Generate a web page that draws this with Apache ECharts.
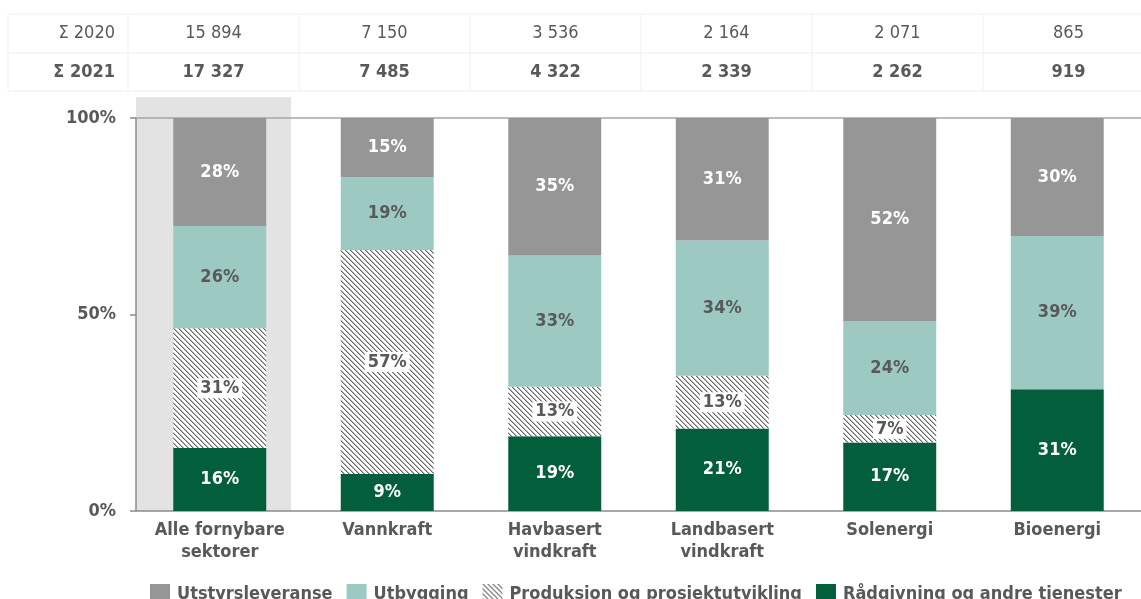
<!DOCTYPE html>
<html>
<head>
<meta charset="utf-8">
<script src="https://cdn.jsdelivr.net/npm/echarts@6/dist/echarts.min.js"></script>
<style>
html,body{margin:0;padding:0;background:#fff;}
#c{width:1141px;height:599px;}
</style>
</head>
<body>
<div id="c"></div>
<script>
// ---- data ----
const categories = ['Alle fornybare\nsektorer', 'Vannkraft', 'Havbasert\nvindkraft', 'Landbasert\nvindkraft', 'Solenergi', 'Bioenergi'];
const sum2020 = [15894, 7150, 3536, 2164, 2071, 865];
const sum2021 = [17327, 7485, 4322, 2339, 2262, 919];
const radgivning = [16, 9.4, 19, 21, 17.4, 31];
const produksjon = [30.5, 57, 12.6, 13.4, 7, 0];
const utbygging = [26, 18.6, 33.4, 34.4, 23.8, 39];
const utstyr = [27.5, 15, 35, 31.2, 51.8, 30];
const yTicks = [0, 50, 100];
const seriesNames = ['Utstyrsleveranse', 'Utbygging', 'Produksjon og prosjektutvikling', 'Rådgivning og andre tjenester'];

// ---- style ----
const FONT = "'Liberation Sans Narrow', 'DejaVu Sans Condensed', 'Noto Sans', sans-serif";
const TXT = '#595959';
const C_GRAY = '#969696', C_TEAL = '#9ccac2', C_GREEN = '#035e3c';

function hatch() {
  const s = 5;
  const cv = document.createElement('canvas');
  cv.width = s; cv.height = s;
  const ctx = cv.getContext('2d');
  ctx.fillStyle = '#ffffff';
  ctx.fillRect(0, 0, s, s);
  for (let i = 0; i < s; i++) {
    ctx.fillStyle = '#666666';
    ctx.fillRect(i, i, 1, 1);
    ctx.fillStyle = '#b4b4b4';
    ctx.fillRect((i + 1) % s, i, 1, 1);
  }
  return { image: cv, repeat: 'repeat' };
}
const C_HATCH = hatch();

const fmt = v => String(v).replace(/\B(?=(\d{3})+(?!\d))/g, ' ');
const pct = p => Math.round(p.value) + '%';

function mk(name, arr, color, labelColor, labelBg) {
  return {
    name: name, type: 'bar', stack: 'a', barWidth: '55.5%',
    itemStyle: { color: color },
    label: {
      show: true, position: 'inside', formatter: pct,
      color: labelColor, fontFamily: FONT, fontWeight: 'bold', fontSize: 18,
      backgroundColor: labelBg || 'transparent', padding: labelBg ? [1, 3] : 0
    },
    data: arr.map(v => v === 0 ? { value: v, label: { show: false } } : v),
    emphasis: { disabled: true }
  };
}

const chart = echarts.init(document.getElementById('c'));

// table graphics
const tbl = [];
const lineCol = '#efefef';
const colLeft0 = 8, colSplit = 128, colW = 171, rowY = [14, 53, 91];
rowY.forEach(y => tbl.push({ type: 'line', z: 1, shape: { x1: colLeft0, y1: y, x2: 1141, y2: y }, style: { stroke: lineCol, lineWidth: 1 } }));
for (let i = 0; i <= 6; i++) {
  const x = i === 0 ? colLeft0 : colSplit + (i - 1) * colW;
  tbl.push({ type: 'line', z: 1, shape: { x1: x, y1: rowY[0], x2: x, y2: rowY[2] }, style: { stroke: lineCol, lineWidth: 1 } });
}
[['Σ 2020', sum2020, 'normal'], ['Σ 2021', sum2021, 'bold']].forEach((r, ri) => {
  const cy = (rowY[ri] + rowY[ri + 1]) / 2;
  tbl.push({ type: 'text', z: 2, x: 115, y: cy, style: { text: r[0], fill: TXT, font: r[2] + ' 18px ' + FONT, textAlign: 'right', textVerticalAlign: 'middle' } });
  r[1].forEach((v, i) => {
    tbl.push({ type: 'text', z: 2, x: colSplit + i * colW + colW / 2, y: cy, style: { text: fmt(v), fill: TXT, font: r[2] + ' 18px ' + FONT, textAlign: 'center', textVerticalAlign: 'middle' } });
  });
});

chart.setOption({
  animation: false,
  backgroundColor: '#ffffff',
  grid: { left: 136, right: 0, top: 118, bottom: 88, containLabel: false },
  legend: {
    data: seriesNames, left: 145, top: 579, itemWidth: 20, itemHeight: 20, itemGap: 14,
    icon: 'rect',
    textStyle: { color: TXT, fontFamily: FONT, fontWeight: 'bold', fontSize: 18, padding: [0, 0, 0, 2] },
    selectedMode: false
  },
  xAxis: [{
    type: 'category', data: categories,
    axisLine: { lineStyle: { color: '#8c8c8c', width: 1.5 } },
    axisTick: { show: false },
    axisLabel: { color: TXT, fontFamily: FONT, fontWeight: 'bold', fontSize: 18, lineHeight: 22, margin: 8, interval: 0 }
  }, {
    type: 'category', data: categories, position: 'top',
    axisLine: { show: true, lineStyle: { color: '#a6a6a6', width: 1.5 } },
    axisTick: { show: false }, axisLabel: { show: false }
  }],
  yAxis: {
    type: 'value', min: yTicks[0], max: yTicks[yTicks.length - 1], interval: yTicks[1] - yTicks[0],
    axisLine: { show: true, lineStyle: { color: '#8c8c8c', width: 1.5 } },
    axisTick: { show: true, length: 6, lineStyle: { color: '#8c8c8c', width: 1.5 } },
    splitLine: { show: false },
    axisLabel: { formatter: '{value}%', color: TXT, fontFamily: FONT, fontWeight: 'bold', fontSize: 18, margin: 20 }
  },
  series: [
    mk(seriesNames[3], radgivning, C_GREEN, '#ffffff'),
    mk(seriesNames[2], produksjon, C_HATCH, TXT, '#ffffff'),
    mk(seriesNames[1], utbygging, C_TEAL, TXT),
    mk(seriesNames[0], utstyr, C_GRAY, '#ffffff')
  ],
  graphic: tbl
});

// highlight band behind first category
const p0 = chart.convertToPixel({ xAxisIndex: 0, yAxisIndex: 0 }, [0, 0]);
const pTop = chart.convertToPixel({ xAxisIndex: 0, yAxisIndex: 0 }, [0, 105.3]);
const catW = chart.convertToPixel({ xAxisIndex: 0 }, 1) - chart.convertToPixel({ xAxisIndex: 0 }, 0);
const left = p0[0] - catW / 2;
const right = p0[0] + catW * 0.425;
tbl.push({ type: 'rect', z: -10, silent: true, shape: { x: left, y: pTop[1], width: right - left, height: p0[1] - pTop[1] }, style: { fill: '#e3e3e3' } });
chart.setOption({ graphic: tbl });
</script>
</body>
</html>
